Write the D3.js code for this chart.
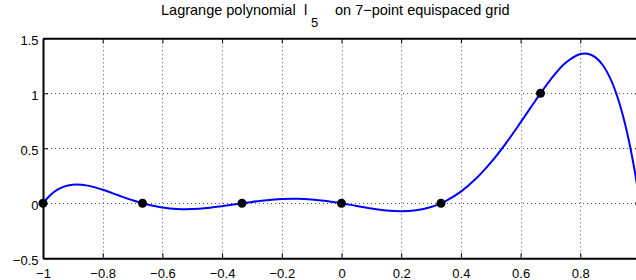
<!DOCTYPE html>
<html>
<head>
<meta charset="utf-8">
<script src="https://cdn.jsdelivr.net/npm/d3@7"></script>
<style>
  html, body { margin: 0; padding: 0; background: #fff; }
  svg { display: block; overflow: hidden; }
  text { font-family: "Liberation Sans", Arial, Helvetica, sans-serif; fill: #000; }
</style>
</head>
<body>
<svg id="chart" width="636" height="280"></svg>
<script>
// ---- data ----
const curveX = [-1, -0.975, -0.95, -0.925, -0.9, -0.85, -0.8, -0.75, -0.7, -0.6667, -0.65, -0.6, -0.55, -0.5, -0.45, -0.4, -0.35, -0.3333,
  -0.3, -0.25, -0.2, -0.15, -0.1, -0.05, 0, 0.05, 0.1, 0.15, 0.2, 0.25, 0.3, 0.3333, 0.35, 0.4, 0.45, 0.5, 0.55, 0.6, 0.65, 0.6667,
  0.7, 0.75, 0.8, 0.825, 0.85, 0.875, 0.9, 0.925, 0.95, 0.975, 1];
const curveY = [0, 0.0757, 0.1262, 0.1560, 0.1694, 0.1606, 0.1234, 0.0750, 0.0274, 0, -0.0118, -0.0387, -0.0520, -0.0527, -0.0432, -0.0266, -0.0067, 0,
  0.0128, 0.0288, 0.0387, 0.0408, 0.0345, 0.0203, 0, -0.0236, -0.0466, -0.0645, -0.0719, -0.0634, -0.0338, 0, 0.0216, 0.1065, 0.2225, 0.3691, 0.5427, 0.7354, 0.9350, 1,
  1.1231, 1.2747, 1.3572, 1.3598, 1.3287, 1.2571, 1.1374, 0.9614, 0.7199, 0.4031, 0];
const nodeX = [-1, -0.6667, -0.3333, 0, 0.3333, 0.6667, 1];
const nodeY = [0, 0, 0, 0, 0, 1, 0];
const xTicks = [-1, -0.8, -0.6, -0.4, -0.2, 0, 0.2, 0.4, 0.6, 0.8, 1];
const xTickLabels = ["\u22121", "\u22120.8", "\u22120.6", "\u22120.4", "\u22120.2", "0", "0.2", "0.4", "0.6", "0.8", "1"];
const yTicks = [-0.5, 0, 0.5, 1, 1.5];
const yTickLabels = ["\u22120.5", "0", "0.5", "1", "1.5"];
const xDomain = [-1, 1];
const yDomain = [-0.5, 1.5];

// ---- layout ----
const W = 636;
const L = 43, R = 640, T = 38.3, B = 258.3;
const svg = d3.select("#chart");
const x = d3.scaleLinear().domain(xDomain).range([L, R]);
const y = d3.scaleLinear().domain(yDomain).range([B, T]);

// grid
const grid = svg.append("g").attr("stroke", "#555").attr("stroke-width", 1).attr("stroke-dasharray", "1,3");
grid.selectAll("line.v").data(xTicks.slice(1, -1)).join("line")
  .attr("x1", d => Math.round(x(d)) + 0.5).attr("x2", d => Math.round(x(d)) + 0.5)
  .attr("y1", T).attr("y2", B);
grid.selectAll("line.h").data(yTicks.slice(1, -1)).join("line")
  .attr("y1", d => Math.round(y(d)) + 0.5).attr("y2", d => Math.round(y(d)) + 0.5)
  .attr("x1", L).attr("x2", R);

// curve
const pts = curveX.map((v, i) => [v, curveY[i]]);
svg.append("path")
  .datum(pts)
  .attr("fill", "none")
  .attr("stroke", "#0000ff")
  .attr("stroke-width", 2)
  .attr("d", d3.line().x(d => x(d[0])).y(d => y(d[1])).curve(d3.curveCatmullRom.alpha(0.5)));

// nodes
svg.append("g").selectAll("circle").data(nodeX.map((v, i) => [v, nodeY[i]])).join("circle")
  .attr("cx", d => x(d[0])).attr("cy", d => y(d[1])).attr("r", 4.5).attr("fill", "#000");

// axes
const fmtX = d => (x(d) + 4 > W ? "" : xTickLabels[xTicks.indexOf(d)]);  // label at x=1 falls outside the window, as in the reference
const fmtY = d => yTickLabels[yTicks.indexOf(d)];
function styleAxis(g) {
  g.select(".domain").attr("stroke", "#000").attr("stroke-width", 2);
  g.selectAll(".tick line").attr("stroke", "#000").attr("stroke-width", 1);
  g.selectAll("text").style("font-size", "13px").style("font-family", "'Liberation Sans', Arial, sans-serif");
}
svg.append("g").attr("transform", `translate(0,${B})`)
  .call(d3.axisBottom(x).tickValues(xTicks).tickFormat(fmtX).tickSizeInner(-5).tickSizeOuter(0).tickPadding(10))
  .call(styleAxis);
svg.append("g").attr("transform", `translate(0,${T})`)
  .call(d3.axisTop(x).tickValues(xTicks).tickFormat("").tickSizeInner(-5).tickSizeOuter(0))
  .call(styleAxis);
svg.append("g").attr("transform", `translate(${L},0)`)
  .call(d3.axisLeft(y).tickValues(yTicks).tickFormat(fmtY).tickSizeInner(-5).tickSizeOuter(0).tickPadding(4.5))
  .call(styleAxis)
  .selectAll("text").attr("dy", "0.45em");
svg.append("g").attr("transform", `translate(${R},0)`)
  .call(d3.axisRight(y).tickValues(yTicks).tickFormat("").tickSizeInner(-5).tickSizeOuter(0))
  .call(styleAxis);

// title
const title = svg.append("text").attr("x", 161).attr("y", 15).style("font-size", "14.5px");
title.append("tspan").text("Lagrange polynomial");
title.append("tspan").attr("x", 304).text("l");
title.append("tspan").attr("x", 311).attr("dy", 12).style("font-size", "13px").text("5");
title.append("tspan").attr("x", 335).attr("dy", -12).text("on 7\u2212point equispaced grid");
</script>
</body>
</html>
